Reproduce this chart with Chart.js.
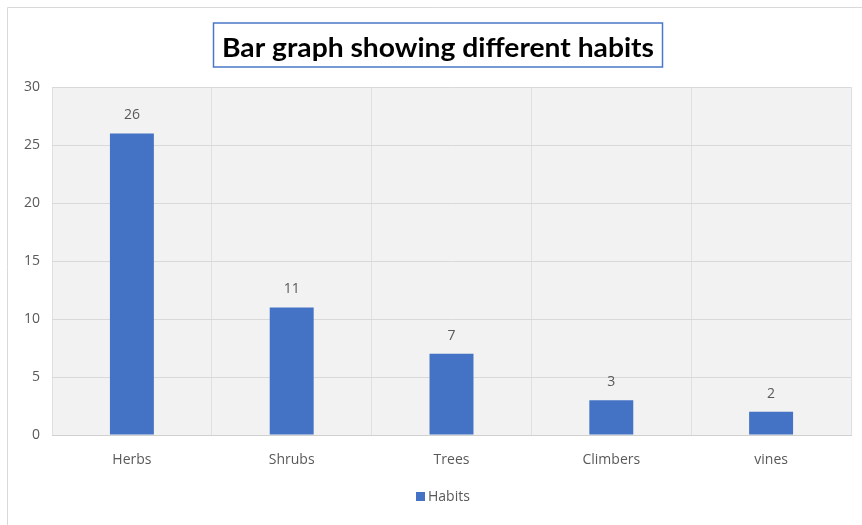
<!DOCTYPE html>
<html>
<head>
<meta charset="utf-8">
<script src="https://cdn.jsdelivr.net/npm/chart.js@4/dist/chart.umd.min.js"></script>
<style>
  html, body { margin: 0; padding: 0; background: #ffffff; }
  #wrap { width: 862px; height: 525px; position: relative; }
</style>
</head>
<body>
<div id="wrap"><canvas id="habitosChart" width="862" height="525"></canvas></div>
<script>
// Datos
const categorias = ['Herbs', 'Shrubs', 'Trees', 'Climbers', 'vines'];
const valores = [26, 11, 7, 3, 2];
const serie = 'Habits';
const titulo = 'Bar graph showing different habits';
const yMax = 30;
const yPaso = 5;

const azul = '#4472c4';
const gris = '#595959';

// Fondo del área de trazado, marco exterior, título con recuadro, etiquetas y leyenda
const decoracion = {
  id: 'decoracion',
  beforeDraw(chart) {
    const ctx = chart.ctx;
    const a = chart.chartArea;
    ctx.save();
    ctx.fillStyle = '#f2f2f2';
    ctx.fillRect(a.left, a.top, a.right - a.left, a.bottom - a.top);
    // marco exterior
    ctx.strokeStyle = '#d9d9d9';
    ctx.lineWidth = 1;
    ctx.beginPath();
    ctx.moveTo(7.5, 525);
    ctx.lineTo(7.5, 7.5);
    ctx.lineTo(862, 7.5);
    ctx.stroke();
    ctx.restore();
  },
  afterDraw(chart) {
    const ctx = chart.ctx;
    ctx.save();
    // título
    ctx.strokeStyle = '#4a78c9';
    ctx.lineWidth = 1.5;
    ctx.strokeRect(213.5, 23, 449, 44);
    ctx.font = 'bold 26px Lato';
    const w = ctx.measureText(titulo).width;
    const objetivo = 432;
    ctx.translate(438, 57);
    ctx.scale(objetivo / w, 1);
    ctx.fillStyle = '#000000';
    ctx.textAlign = 'center';
    ctx.textBaseline = 'alphabetic';
    ctx.fillText(titulo, 0, 0);
    ctx.restore();

    // etiquetas de valor
    ctx.save();
    ctx.font = '14px "Open Sans"';
    ctx.fillStyle = gris;
    ctx.textAlign = 'center';
    ctx.textBaseline = 'middle';
    const meta = chart.getDatasetMeta(0);
    meta.data.forEach((bar, i) => {
      ctx.fillText(String(valores[i]), bar.x, bar.y - 18);
    });

    // leyenda
    ctx.fillStyle = azul;
    ctx.fillRect(416, 492, 9, 9);
    ctx.fillStyle = gris;
    ctx.textAlign = 'left';
    ctx.fillText(serie, 428, 497);
    ctx.restore();
  }
};

const ctx = document.getElementById('habitosChart').getContext('2d');
window.habitosChartInstance = new Chart(ctx, {
  type: 'bar',
  data: {
    labels: categorias,
    datasets: [{
      label: serie,
      data: valores,
      backgroundColor: azul,
      borderWidth: 0,
      categoryPercentage: 1,
      barPercentage: 0.275
    }]
  },
  options: {
    responsive: false,
    animation: false,
    devicePixelRatio: 1,
    layout: { padding: { left: 0, right: 11, top: 87, bottom: 50 } },
    plugins: {
      legend: { display: false },
      title: { display: false },
      tooltip: { enabled: false }
    },
    scales: {
      x: {
        grid: { color: '#e0e0e0', drawTicks: false, offset: true },
        border: { display: true, color: '#d0d0d0' },
        ticks: { color: gris, font: { family: 'Open Sans', size: 14 }, padding: 17 },
        afterFit: (scale) => { scale.height = 40; }
      },
      y: {
        min: 0,
        max: yMax,
        grid: { color: '#d9d9d9', drawTicks: false },
        border: { display: false },
        ticks: { stepSize: yPaso, color: gris, font: { family: 'Open Sans', size: 14 }, padding: 12 },
        afterFit: (scale) => { scale.width = 52; }
      }
    }
  },
  plugins: [decoracion]
});
</script>
</body>
</html>
